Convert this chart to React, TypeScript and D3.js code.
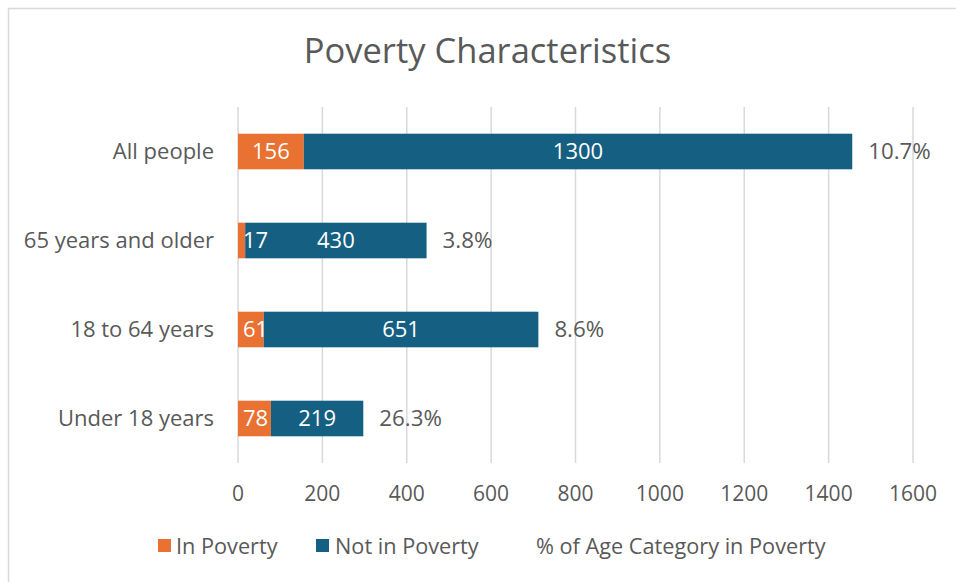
import React from "react";
import * as d3 from "d3";

const categories = ["All people", "65 years and older", "18 to 64 years", "Under 18 years"];
const inPoverty = [156, 17, 61, 78];
const notInPoverty = [1300, 430, 651, 219];
const pctLabels = ["10.7%", "3.8%", "8.6%", "26.3%"];
const xTicks = [0, 200, 400, 600, 800, 1000, 1200, 1400, 1600];
const seriesNames = ["In Poverty", "Not in Poverty", "% of Age Category in Poverty"];

const W = 956;
const H = 582;
const FONT = "'Open Sans', 'Noto Sans', sans-serif";
const TEXT = "#595959";
const ORANGE = "#E97132";
const BLUE = "#156082";
const GRID = "#D9D9D9";

export default function App() {
  const x = d3.scaleLinear().domain([0, 1600]).range([238, 913]);
  const y = d3.scaleBand<string>().domain(categories).range([107, 463]).paddingInner(0.6).paddingOuter(0.3);
  const bw = y.bandwidth();

  const rows = categories.map((c, i) => ({
    cat: c,
    a: inPoverty[i],
    b: notInPoverty[i],
    pct: pctLabels[i],
  }));

  const labelFs = 22;
  const approxW = (s: string) => s.length * labelFs * 0.572;

  return (
    <svg
      width={W}
      height={H}
      style={{ position: "absolute", left: 0, top: 0, fontFamily: FONT }}
    >
      <rect x={0} y={0} width={W} height={H} fill="#fff" />
      <rect x={8.5} y={8.5} width={970} height={600} fill="#fff" stroke={GRID} strokeWidth={1.5} />
      <text x={487.5} y={63} textAnchor="middle" fontSize={34.5} fill={TEXT}>
        Poverty Characteristics
      </text>
      {xTicks.map((t) => (
        <g key={t}>
          <line x1={x(t)} x2={x(t)} y1={y.range()[0]} y2={y.range()[1]} stroke={GRID} strokeWidth={1.5} />
          <text x={x(t)} y={501} textAnchor="middle" fontSize={21} fill={TEXT}>
            {t}
          </text>
        </g>
      ))}
      {rows.map((r) => {
        const yc = (y(r.cat) as number) + bw / 2;
        const x0 = x(0);
        const x1 = x(r.a);
        const x2 = x(r.a + r.b);
        const aStr = String(r.a);
        const aCenter = Math.max((x0 + x1) / 2, x0 + approxW(aStr) / 2 + 5);
        return (
          <g key={r.cat}>
            <text x={214} y={yc} dy="0.35em" textAnchor="end" fontSize={22} fill={TEXT}>
              {r.cat}
            </text>
            <rect x={x0} y={y(r.cat)} width={x1 - x0} height={bw} fill={ORANGE} />
            <rect x={x1} y={y(r.cat)} width={x2 - x1} height={bw} fill={BLUE} />
            <text x={aCenter} y={yc} dy="0.35em" textAnchor="middle" fontSize={labelFs} fill="#fff">
              {aStr}
            </text>
            <text x={(x1 + x2) / 2} y={yc} dy="0.35em" textAnchor="middle" fontSize={labelFs} fill="#fff">
              {r.b}
            </text>
            <text x={x2 + 16} y={yc} dy="0.35em" textAnchor="start" fontSize={22.3} fill={TEXT}>
              {r.pct}
            </text>
          </g>
        );
      })}
      <g fontSize={21.7} fill={TEXT}>
        <rect x={158} y={539} width={13} height={13} fill={ORANGE} />
        <text x={176} y={546} dy="0.35em">{seriesNames[0]}</text>
        <rect x={316} y={539} width={13} height={13} fill={BLUE} />
        <text x={335} y={546} dy="0.35em">{seriesNames[1]}</text>
        <text x={536} y={546} dy="0.35em">{seriesNames[2]}</text>
      </g>
    </svg>
  );
}
